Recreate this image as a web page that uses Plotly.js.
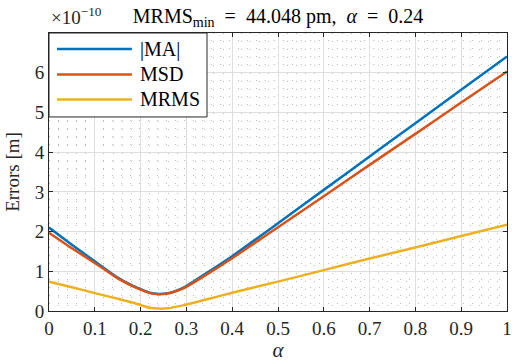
<!DOCTYPE html>
<html>
<head>
<meta charset="utf-8">
<script src="https://cdn.plot.ly/plotly-3.0.1.min.js"></script>
<style>html,body{margin:0;padding:0;background:#fff;}#chart{width:512px;height:362px;}</style>
</head>
<body>
<div id="chart"></div>
<script>
// alpha values (x)
const alpha = [0, 0.05, 0.1, 0.15, 0.18, 0.2, 0.22, 0.24, 0.26, 0.28, 0.3, 0.35, 0.4, 0.5, 0.6, 0.7, 0.8, 0.9, 1.0];
// errors in units of 1e-10 m
const ma   = [2.10, 1.67, 1.25, 0.84, 0.65, 0.55, 0.46, 0.43, 0.45, 0.52, 0.63, 1.00, 1.38, 2.21, 3.05, 3.89, 4.73, 5.57, 6.41];
const msd  = [1.97, 1.58, 1.21, 0.82, 0.64, 0.54, 0.45, 0.42, 0.44, 0.51, 0.61, 0.96, 1.33, 2.11, 2.89, 3.68, 4.46, 5.25, 6.03];
const mrms = [0.74, 0.60, 0.45, 0.31, 0.22, 0.15, 0.08, 0.06, 0.07, 0.11, 0.16, 0.31, 0.46, 0.74, 1.03, 1.32, 1.60, 1.89, 2.17];
const names = ['|MA|', 'MSD', 'MRMS'];
const colors = ['#0072BD', '#D95319', '#EDB120'];
const xTicks = [0, 0.1, 0.2, 0.3, 0.4, 0.5, 0.6, 0.7, 0.8, 0.9, 1];
const xTickText = ['0', '0.1', '0.2', '0.3', '0.4', '0.5', '0.6', '0.7', '0.8', '0.9', '1'];
const yTicks = [0, 1, 2, 3, 4, 5, 6];

const FONT = 'Liberation Serif';
const series = [ma, msd, mrms];
const traces = series.map((s, i) => ({
  x: alpha, y: s, type: 'scatter', mode: 'lines', name: names[i],
  line: {color: colors[i], width: 2.5, shape: 'spline', smoothing: 0.6},
  showlegend: false
}));

// MATLAB-style legend box (layout elements in paper coords)
const legX0 = 0, legX1 = 0.345, legY0 = 0.698, legY1 = 1;
const rowY = [0.942, 0.851, 0.761];
const shapes = [{type: 'rect', xref: 'paper', yref: 'paper', x0: legX0, x1: legX1, y0: legY0, y1: legY1,
  fillcolor: '#ffffff', line: {color: '#262626', width: 1}, layer: 'above'}];
const annotations = [];
names.forEach((n, i) => {
  shapes.push({type: 'line', xref: 'paper', yref: 'paper', x0: 0.0175, x1: 0.181, y0: rowY[i], y1: rowY[i],
    line: {color: colors[i], width: 2.5}, layer: 'above'});
  annotations.push({xref: 'paper', yref: 'paper', x: 0.195, y: rowY[i], xanchor: 'left', yanchor: 'middle',
    text: n, showarrow: false, font: {family: FONT, size: 20, color: '#000'}});
});
annotations.push({xref: 'paper', yref: 'paper', x: 0.0, y: 1, xanchor: 'left', yanchor: 'bottom', yshift: 3,
  text: '×10<sup>−10</sup>', showarrow: false, font: {family: FONT, size: 19, color: '#262626'}});

const axisCommon = {
  showline: true, linecolor: '#262626', linewidth: 1, mirror: 'ticks',
  ticks: 'inside', ticklen: 4, tickcolor: '#262626', tickwidth: 1,
  showgrid: true, gridcolor: '#dedede', gridwidth: 1, zeroline: false,
  tickfont: {family: FONT, size: 19, color: '#262626'}
};

const layout = {
  width: 512, height: 362,
  margin: {l: 49, r: 5, t: 33, b: 51},
  paper_bgcolor: '#ffffff', plot_bgcolor: '#ffffff',
  font: {family: FONT},
  title: {text: 'MRMS<sub>min</sub>  =  44.048 pm,  <i>α</i>  =  0.24', x: 0.543, xanchor: 'center', y: 0.955, yanchor: 'middle',
    font: {family: FONT, size: 20, color: '#000'}},
  xaxis: Object.assign({}, axisCommon, {
    range: [0, 1], tickvals: xTicks, ticktext: xTickText,
    minor: {dtick: 0.02, showgrid: true, gridcolor: '#bdbdbd', griddash: '1px,7px', gridwidth: 1, ticks: ''},
    title: {text: '<i>α</i>', font: {family: FONT, size: 21, color: '#262626'}, standoff: 8}
  }),
  yaxis: Object.assign({}, axisCommon, {
    range: [0, 7], tickvals: yTicks,
    minor: {dtick: 0.2, showgrid: true, gridcolor: '#bdbdbd', griddash: '1px,8px', gridwidth: 1, ticks: ''},
    title: {text: 'Errors [m]', font: {family: FONT, size: 19, color: '#262626'}, standoff: 10}
  }),
  shapes: shapes,
  annotations: annotations
};

Plotly.newPlot('chart', traces, layout, {staticPlot: true, displayModeBar: false});
</script>
</body>
</html>
